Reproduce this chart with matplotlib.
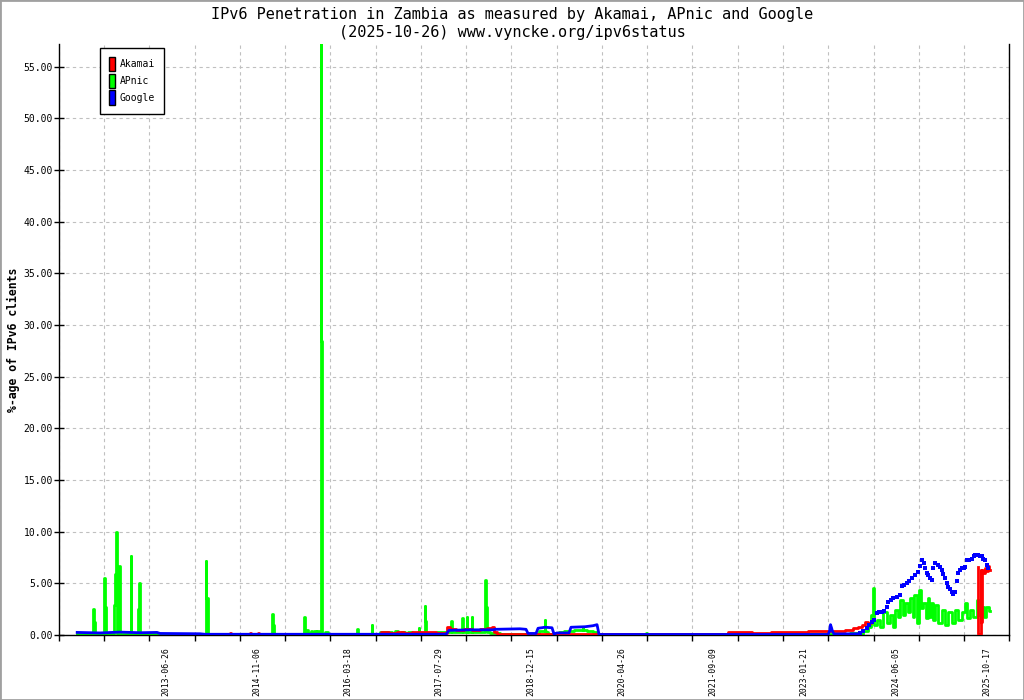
import datetime as dt
import matplotlib
matplotlib.use('Agg')
import matplotlib.pyplot as plt
from matplotlib.patches import Patch, Rectangle
import numpy as np

plt.rcParams.update({'font.family': 'DejaVu Sans Mono'})

# time in decimal years, values in % of clients
apnic_t = [2012.16, 2012.395, 2012.404, 2012.427, 2012.44, 2012.55, 2012.562, 2012.581, 2012.595,
           2012.705, 2012.719, 2012.734, 2012.756, 2012.77, 2012.785, 2012.794, 2012.81,
           2012.955, 2012.966, 2012.98, 2013.07, 2013.079, 2013.094, 2013.11,
           2014.08, 2014.09, 2014.105, 2014.12, 2015.07, 2015.079, 2015.094, 2015.11,
           2015.55, 2015.558, 2015.575, 2015.603, 2015.62, 2015.648, 2015.67, 2015.70, 2015.72, 2015.745, 2015.768, 2015.79,
           2015.805, 2015.813, 2015.828, 2015.84, 2015.91, 2015.925,
           2016.35, 2016.36, 2016.375, 2016.57, 2016.577, 2016.59,
           2016.80, 2016.82, 2016.86, 2016.88, 2016.95, 2016.98, 2017.05, 2017.08, 2017.15, 2017.19,
           2017.275, 2017.282, 2017.295, 2017.365, 2017.371, 2017.386, 2017.40,
           2017.50, 2017.60, 2017.70, 2017.76, 2017.768, 2017.78, 2017.85,
           2017.925, 2017.933, 2017.945, 2017.99, 2018.001, 2018.015, 2018.065, 2018.076, 2018.09,
           2018.18, 2018.27, 2018.278, 2018.293, 2018.305, 2018.40, 2018.48, 2018.50,
           2019.05, 2019.095, 2019.14, 2019.165, 2019.17, 2019.18, 2019.20, 2019.23,
           2019.349, 2019.40, 2019.50, 2019.56, 2019.65, 2019.735, 2019.739, 2019.75, 2019.85, 2019.94, 2019.96,
           2020.68, 2020.69, 2020.70,
           2023.41, 2023.665, 2023.815, 2023.889, 2023.990, 2024.039, 2024.065, 2024.089, 2024.114, 2024.164,
           2024.215, 2024.264, 2024.314, 2024.364, 2024.388, 2024.439, 2024.463, 2024.514, 2024.538, 2024.589,
           2024.613, 2024.664, 2024.688, 2024.714, 2024.763, 2024.789, 2024.814, 2024.863, 2024.889, 2024.913,
           2024.931, 2024.964, 2024.988, 2025.039, 2025.088, 2025.138, 2025.189, 2025.238, 2025.288, 2025.338,
           2025.388, 2025.437, 2025.473, 2025.512, 2025.563, 2025.613, 2025.662, 2025.688, 2025.737, 2025.762,
           2025.803, 2025.830]
apnic_v = [0.05, 0.05, 2.52, 1.29, 0.05, 0.05, 5.52, 2.74, 0.05,
           0.05, 2.9, 5.9, 9.94, 0.05, 0.05, 6.68, 0.05,
           0.05, 7.65, 0.05, 0.05, 2.52, 5.03, 0.05,
           0.05, 7.17, 3.58, 0.05, 0.05, 2.03, 0.97, 0.05,
           0.05, 1.71, 0.05, 0.48, 0.05, 0.15, 0.35, 0.2, 0.35, 0.25, 0.35, 0.05,
           0.05, 57.2, 28.5, 0.05, 0.3, 0.05,
           0.05, 0.57, 0.05, 0.05, 0.95, 0.05,
           0.3, 0.1, 0.3, 0.1, 0.4, 0.1, 0.3, 0.1, 0.25, 0.05,
           0.05, 0.68, 0.05, 0.05, 2.8, 1.36, 0.05,
           0.2, 0.3, 0.25, 0.25, 1.36, 0.25, 0.3,
           0.3, 1.67, 0.3, 0.3, 1.73, 0.3, 0.3, 1.76, 0.3,
           0.25, 0.25, 5.3, 2.7, 0.25, 0.2, 0.15, 0.05,
           0.05, 0.4, 0.35, 0.4, 1.45, 0.4, 0.3, 0.05,
           0.05, 0.3, 0.35, 0.4, 0.45, 0.5, 0.65, 0.45, 0.4, 0.3, 0.03,
           0.03, 0.22, 0.03,
           0.05, 0.1, 0.15, 0.07, 0.39, 0.8, 1.94, 4.52, 0.97, 1.45,
           0.8, 2.26, 1.13, 1.94, 0.8, 2.4, 1.77, 3.4, 1.94, 3.07,
           2.26, 3.55, 1.77, 3.87, 1.13, 4.36, 2.58, 3.07, 1.61, 3.55,
           1.77, 3.07, 1.45, 2.9, 1.13, 2.4, 0.97, 2.26, 1.13, 2.4,
           1.45, 2.26, 3.07, 1.61, 2.4, 1.77, 3.4, 1.94, 2.74, 1.77,
           2.74, 2.3]

# Akamai has a gap (NaN) between early 2024 and autumn 2025
akamai_t = [2014.00, 2014.44, 2014.45, 2014.47, 2014.74, 2014.749, 2014.77, 2014.86, 2014.869, 2014.89,
            2016.64, 2016.652, 2016.772, 2016.892, 2016.997, 2017.117, 2017.222, 2017.371, 2017.491, 2017.596,
            2017.686, 2017.716, 2017.776, 2017.896, 2018.016, 2018.136, 2018.256, 2018.346, 2018.390, 2018.435, 2018.480,
            2021.90, 2021.912, 2022.166, 2022.361, 2022.736, 2022.990, 2023.215, 2023.590, 2023.740, 2023.840,
            2023.889, 2023.939, 2023.990, 2024.039, 2024.069, 2024.08,
            2025.658, 2025.669, 2025.688, 2025.703, 2025.715, 2025.727, 2025.748, 2025.770, 2025.792, 2025.815, 2025.830]
akamai_v = [0.0, 0.0, 0.2, 0.0, 0.0, 0.15, 0.0, 0.0, 0.15, 0.0,
            0.0, 0.1, 0.25, 0.15, 0.3, 0.2, 0.3, 0.25, 0.3, 0.2,
            0.2, 0.8, 0.55, 0.5, 0.6, 0.5, 0.55, 0.7, 0.75, 0.3, 0.05,
            0.05, 0.25, 0.25, 0.2, 0.32, 0.3, 0.35, 0.35, 0.45, 0.65,
            0.75, 0.97, 1.3, 1.2, 1.3, np.nan,
            6.6, 0.1, 0.1, 6.3, 1.3, 6.3, 6.0, 6.5, 6.2, 6.7, 6.3]

google_t = [2012.16, 2012.502, 2012.801, 2013.101, 2013.356, 2013.401, 2014.000, 2014.075, 2017.686,
            2017.731, 2018.046, 2018.390, 2018.420, 2018.795, 2018.885, 2018.915, 2019.035, 2019.065,
            2019.170, 2019.274, 2019.304, 2019.349, 2019.529, 2019.559, 2019.769, 2019.889, 2019.949, 2019.979,
            2023.410, 2023.432, 2023.447, 2023.462, 2023.477, 2023.500, 2023.860,
            2023.889, 2023.939, 2023.990, 2024.024, 2024.065, 2024.099, 2024.140, 2024.174, 2024.215, 2024.249,
            2024.290, 2024.314, 2024.354, 2024.388, 2024.436, 2024.489, 2024.514, 2024.549, 2024.589, 2024.624,
            2024.664, 2024.714, 2024.763, 2024.789, 2024.814, 2024.841, 2024.863, 2024.889, 2024.913, 2024.938,
            2024.964, 2024.988, 2025.013, 2025.051, 2025.088, 2025.114, 2025.138, 2025.163, 2025.189, 2025.213,
            2025.238, 2025.268, 2025.288, 2025.313, 2025.338, 2025.362, 2025.388, 2025.413, 2025.440, 2025.463,
            2025.488, 2025.523, 2025.563, 2025.590, 2025.613, 2025.638, 2025.662, 2025.688, 2025.713, 2025.737,
            2025.762, 2025.788, 2025.812]
google_v = [0.25, 0.2, 0.28, 0.22, 0.25, 0.15, 0.12, 0.07, 0.07,
            0.45, 0.5, 0.5, 0.55, 0.6, 0.55, 0.15, 0.15, 0.65,
            0.75, 0.7, 0.1, 0.2, 0.2, 0.75, 0.8, 0.9, 1.0, 0.05,
            0.05, 0.35, 1.0, 0.7, 0.35, 0.1, 0.12,
            0.2, 0.35, 0.65, 0.95, 1.23, 1.5, 2.1, 2.2, 2.26, 2.3,
            2.74, 3.2, 3.4, 3.55, 3.7, 3.87, 4.7, 4.8, 5.0, 5.2,
            5.5, 5.8, 6.1, 6.7, 7.26, 7.0, 6.5, 6.0, 5.8, 5.5,
            5.3, 6.46, 6.95, 6.8, 6.6, 6.3, 5.9, 5.5, 5.0, 4.6,
            4.5, 4.2, 4.0, 4.2, 5.2, 6.0, 6.3, 6.46, 6.5, 6.6,
            7.26, 7.3, 7.4, 7.6, 7.75, 7.7, 7.75, 7.6, 7.6, 7.4,
            7.26, 6.8, 6.46]

date_labels = ['2013-06-26', '2014-11-06', '2016-03-18', '2017-07-29', '2018-12-15',
               '2020-04-26', '2021-09-09', '2023-01-21', '2024-06-05', '2025-10-17']
y_ticks = [0, 5, 10, 15, 20, 25, 30, 35, 40, 45, 50, 55]


def dec_year(s):
    d = dt.date.fromisoformat(s)
    return 2011 + (d - dt.date(2011, 1, 1)).days / 365.25


W, H = 1024, 700
fig = plt.figure(figsize=(W / 100, H / 100), dpi=100)
ax = fig.add_axes([58.7 / W, 65 / H, (1009.3 - 58.7) / W, 591 / H])

x0, x1 = 2011.883, 2026.126
ax.set_xlim(x0, x1)
ax.set_ylim(0, 57.2)

# series (daily values drawn as steps)
ax.plot(apnic_t, apnic_v, color='#00ff00', lw=2.0, zorder=2, drawstyle='steps-mid')
at = np.array(akamai_t)
av = np.array(akamai_v)
gap = np.where(np.isnan(av))[0]
for seg_t, seg_v in zip(np.split(at, gap), np.split(av, gap)):
    ok = ~np.isnan(seg_v)
    ax.plot(seg_t[ok], seg_v[ok], color='#ff0000', lw=2.0, zorder=3, drawstyle='steps-mid')
gt = np.array(google_t)
gv = np.array(google_v)
early = gt < 2023.87
ax.plot(gt[early], gv[early], color='#0000ff', lw=2.0, zorder=4)
ax.plot(gt[~early], gv[~early], color='#0000ff', ls='none', marker='s', ms=2.6, mew=0, zorder=4)

# axes, ticks, grid
ax.spines['top'].set_visible(False)
for s in ['left', 'bottom', 'right']:
    ax.spines[s].set_linewidth(1.0)
    ax.spines[s].set_color('black')

ax.set_yticks(y_ticks)
ax.set_yticklabels(['%.2f' % v for v in y_ticks], fontsize=7)
ax.tick_params(axis='y', direction='inout', length=6.5, width=1, pad=1)

ax.set_xticks([dec_year(s) for s in date_labels])
ax.set_xticklabels(date_labels, rotation=90, fontsize=5.9, va='top', ha='center')
ax.set_xticks(np.linspace(x0, x1, 22), minor=True)
ax.tick_params(axis='x', which='major', length=0, pad=9)
ax.tick_params(axis='x', which='minor', direction='out', length=4.5, width=1)

ax.set_axisbelow(True)
ax.xaxis.grid(True, which='minor', color='#c0c0c0', lw=0.8, ls=(0, (3, 3)))
ax.xaxis.grid(False, which='major')
ax.yaxis.grid(True, which='major', color='#c0c0c0', lw=0.8, ls=(0, (3, 3)))

# legend
handles = [Patch(facecolor='#ff0000', edgecolor='black', label='Akamai'),
           Patch(facecolor='#00ff00', edgecolor='black', label='APnic'),
           Patch(facecolor='#0000ff', edgecolor='black', label='Google')]
leg = fig.legend(handles=handles, loc='upper left', bbox_to_anchor=(100 / W, 1 - 48 / H),
                 fontsize=7, handlelength=0.65, handleheight=1.9, handletextpad=0.5,
                 labelspacing=0.25, borderpad=0.9, borderaxespad=0, fancybox=False,
                 framealpha=1, edgecolor='black')
leg.get_frame().set_linewidth(1.0)

# titles
fig.text(0.5, 1 - 14 / H, 'IPv6 Penetration in Zambia as measured by Akamai, APnic and Google',
         ha='center', va='center', fontsize=11)
fig.text(0.5, 1 - 32 / H, '(2025-10-26) www.vyncke.org/ipv6status',
         ha='center', va='center', fontsize=11)
fig.text(13 / W, 1 - 340 / H, '%-age of IPv6 clients', rotation=90, ha='center', va='center',
         fontsize=8.3, weight='bold')

fig.add_artist(Rectangle((0, 0), 1, 1, transform=fig.transFigure, fill=False,
                         edgecolor='#a0a0a0', lw=2))

fig.savefig('out.png', dpi=100)
